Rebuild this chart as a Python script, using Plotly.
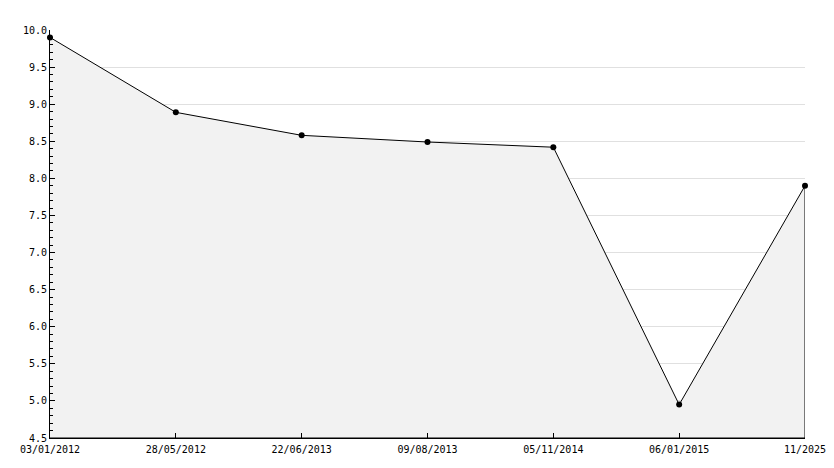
import plotly.graph_objects as go

dates = ["03/01/2012", "28/05/2012", "22/06/2013", "09/08/2013", "05/11/2014", "06/01/2015", "11/2025"]
values = [9.9, 8.89, 8.58, 8.49, 8.42, 4.95, 7.9]
y_min, y_max = 4.5, 10.0

xs = list(range(len(dates)))

fig = go.Figure()
# filled area polygon (closed down to axis minimum)
fig.add_trace(go.Scatter(
    x=xs + [xs[-1], xs[0]],
    y=values + [y_min, y_min],
    fill="toself", fillcolor="#f2f2f2",
    mode="lines", line=dict(color="black", width=1),
    hoverinfo="skip", showlegend=False,
))
fig.add_trace(go.Scatter(
    x=xs, y=values, mode="markers",
    marker=dict(color="black", size=6, symbol="circle"),
    showlegend=False, cliponaxis=False,
))

font = dict(family="DejaVu Sans Mono", size=10, color="black")
fig.update_layout(
    width=826, height=460,
    margin=dict(l=42, r=29, t=22, b=30, autoexpand=False),
    paper_bgcolor="white", plot_bgcolor="white",
    font=font,
    xaxis=dict(
        range=[xs[0], xs[-1]], tickvals=xs, ticktext=dates,
        showgrid=False, zeroline=False, automargin=False,
        showline=True, linecolor="black", linewidth=1,
        ticks="inside", ticklen=5, tickcolor="black",
        ticklabelstandoff=2,
        tickfont=font,
    ),
    yaxis=dict(
        range=[y_min, y_max], dtick=0.5, tick0=4.5, tickformat=".1f",
        showgrid=True, gridcolor="#e0e0e0", gridwidth=1, zeroline=False,
        automargin=False,
        showline=True, linecolor="black", linewidth=1,
        ticks="inside", ticklen=5, tickcolor="black",
        minor=dict(dtick=0.1, ticks="inside", ticklen=3, tickcolor="black", showgrid=False),
        tickfont=font,
    ),
)
fig.write_html("out.html")
